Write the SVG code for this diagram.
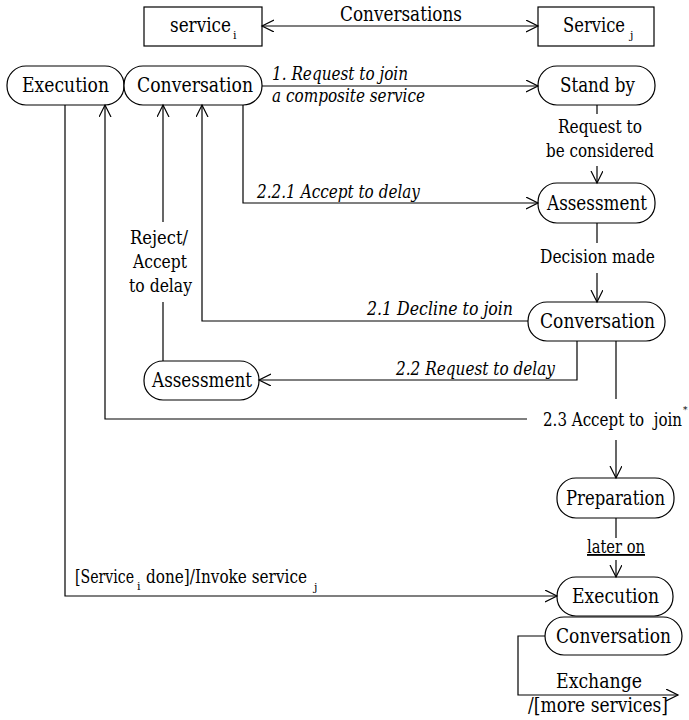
<svg xmlns="http://www.w3.org/2000/svg" width="689" height="720" viewBox="0 0 689 720">
<style>
  .box { fill: #fff; stroke: #000; stroke-width: 1.2; }
  text { font-family: 'DejaVu Serif', 'Liberation Serif', serif; fill: #000; }
  .nt { font-size: 19.5px; }
  .lb { font-size: 18.5px; }
  .lg { font-size: 19.5px; }
  .it { font-style: italic; }
  .sub { font-size: 11px; }
  .ln { fill: none; stroke: #000; stroke-width: 1.2; }
</style>
<defs>
  <marker id="arr" markerUnits="userSpaceOnUse" markerWidth="14" markerHeight="14" refX="12" refY="6" orient="auto-start-reverse">
    <path d="M0,0 L12,6 L0,12" fill="none" stroke="#000" stroke-width="1.2"/>
  </marker>
</defs>

<g id="service-i">
  <rect class="box" x="144" y="7" width="118" height="39"/>
  <text class="nt" x="170" y="32" textLength="61" lengthAdjust="spacingAndGlyphs">service</text>
  <text class="sub" x="233" y="39">i</text>
</g>
<g id="service-j">
  <rect class="box" x="538" y="7" width="116" height="39"/>
  <text class="nt" x="563" y="32" textLength="62" lengthAdjust="spacingAndGlyphs">Service</text>
  <text class="sub" x="630" y="39">j</text>
</g>

<g id="execution-left">
  <rect class="box" x="7" y="66" width="117" height="39" rx="19" ry="19"/>
  <text class="nt" x="22" y="92" textLength="87" lengthAdjust="spacingAndGlyphs">Execution</text>
</g>
<g id="conversation-left">
  <rect class="box" x="124" y="66" width="138" height="39" rx="19" ry="19"/>
  <text class="nt" x="137" y="92" textLength="116" lengthAdjust="spacingAndGlyphs">Conversation</text>
</g>
<g id="standby">
  <rect class="box" x="538" y="66" width="117" height="39" rx="19" ry="19"/>
  <text class="nt" x="560" y="92" textLength="75" lengthAdjust="spacingAndGlyphs">Stand by</text>
</g>
<g id="assessment-right">
  <rect class="box" x="538" y="183" width="117" height="40" rx="19" ry="19"/>
  <text class="nt" x="547" y="210" textLength="100" lengthAdjust="spacingAndGlyphs">Assessment</text>
</g>
<g id="conversation-right">
  <rect class="box" x="528" y="302" width="137" height="39" rx="19" ry="19"/>
  <text class="nt" x="540" y="328" textLength="115" lengthAdjust="spacingAndGlyphs">Conversation</text>
</g>
<g id="assessment-left">
  <rect class="box" x="144" y="361" width="115" height="39" rx="19" ry="19"/>
  <text class="nt" x="152" y="387" textLength="100" lengthAdjust="spacingAndGlyphs">Assessment</text>
</g>
<g id="preparation">
  <rect class="box" x="557" y="478" width="117" height="40" rx="19" ry="19"/>
  <text class="nt" x="566" y="505" textLength="99" lengthAdjust="spacingAndGlyphs">Preparation</text>
</g>
<g id="execution-right">
  <rect class="box" x="557" y="577" width="116" height="39" rx="19" ry="19"/>
  <text class="nt" x="572" y="603" textLength="87" lengthAdjust="spacingAndGlyphs">Execution</text>
</g>
<g id="conversation-bottom">
  <rect class="box" x="545" y="617" width="137" height="38" rx="19" ry="19"/>
  <text class="nt" x="556" y="643" textLength="115" lengthAdjust="spacingAndGlyphs">Conversation</text>
</g>

<g id="connectors">
  <line class="ln" x1="262" y1="26" x2="538" y2="26" marker-start="url(#arr)" marker-end="url(#arr)"/>
  <line class="ln" x1="262" y1="86" x2="538" y2="86" marker-end="url(#arr)"/>
  <line class="ln" x1="597" y1="105" x2="597" y2="114"/>
  <line class="ln" x1="597" y1="166" x2="597" y2="183" marker-end="url(#arr)"/>
  <polyline class="ln" points="243,105 243,203 538,203" marker-end="url(#arr)"/>
  <line class="ln" x1="597" y1="223" x2="597" y2="243"/>
  <line class="ln" x1="597" y1="273" x2="597" y2="302" marker-end="url(#arr)"/>
  <polyline class="ln" points="528,321 202,321 202,105" marker-end="url(#arr)"/>
  <polyline class="ln" points="577,341 577,380 259,380" marker-end="url(#arr)"/>
  <line class="ln" x1="163" y1="361" x2="163" y2="302"/>
  <line class="ln" x1="163" y1="222" x2="163" y2="105" marker-end="url(#arr)"/>
  <line class="ln" x1="616" y1="341" x2="616" y2="399"/>
  <polyline class="ln" points="527,419 105,419 105,105" marker-end="url(#arr)"/>
  <line class="ln" x1="616" y1="440" x2="616" y2="478" marker-end="url(#arr)"/>
  <line class="ln" x1="616" y1="518" x2="616" y2="538"/>
  <line class="ln" x1="616" y1="560" x2="616" y2="577" marker-end="url(#arr)"/>
  <polyline class="ln" points="65,105 65,596 557,596" marker-end="url(#arr)"/>
  <polyline class="ln" points="545,636 518,636 518,695 678,695" marker-end="url(#arr)"/>
</g>

<g id="labels">
  <text class="lg" x="340" y="21" textLength="122" lengthAdjust="spacingAndGlyphs">Conversations</text>
  <text class="lb it" x="272" y="80" textLength="136" lengthAdjust="spacingAndGlyphs">1. Request to join</text>
  <text class="lb it" x="272" y="102" textLength="153" lengthAdjust="spacingAndGlyphs">a composite service</text>
  <text class="lb" x="558" y="133" textLength="84" lengthAdjust="spacingAndGlyphs">Request to</text>
  <text class="lb" x="546" y="157" textLength="108" lengthAdjust="spacingAndGlyphs">be considered</text>
  <text class="lb it" x="257" y="198" textLength="163" lengthAdjust="spacingAndGlyphs">2.2.1 Accept to delay</text>
  <text class="lb" x="130" y="244" textLength="58" lengthAdjust="spacingAndGlyphs">Reject/</text>
  <text class="lb" x="133" y="268" textLength="54" lengthAdjust="spacingAndGlyphs">Accept</text>
  <text class="lb" x="129" y="292" textLength="63" lengthAdjust="spacingAndGlyphs">to delay</text>
  <text class="lb" x="540" y="263" textLength="115" lengthAdjust="spacingAndGlyphs">Decision made</text>
  <text class="lb it" x="367" y="315" textLength="146" lengthAdjust="spacingAndGlyphs">2.1 Decline to join</text>
  <text class="lb it" x="396" y="375" textLength="159" lengthAdjust="spacingAndGlyphs">2.2 Request to delay</text>
  <text class="lb" x="543" y="426" textLength="139" lengthAdjust="spacingAndGlyphs" xml:space="preserve">2.3 Accept to  join</text>
  <text x="683" y="413" font-size="9">*</text>
  <text class="lb" x="587" y="553" textLength="58" lengthAdjust="spacingAndGlyphs" text-decoration="underline">later on</text>
  <text class="lb" x="75" y="583" textLength="59" lengthAdjust="spacingAndGlyphs">[Service</text>
  <text class="sub" x="137" y="590">i</text>
  <text class="lb" x="146" y="583" textLength="161" lengthAdjust="spacingAndGlyphs">done]/Invoke service</text>
  <text class="sub" x="314" y="591">j</text>
  <text class="lg" x="556" y="688" textLength="86" lengthAdjust="spacingAndGlyphs">Exchange</text>
  <text class="lg" x="528" y="712" textLength="140" lengthAdjust="spacingAndGlyphs">/[more services]</text>
</g>
</svg>
